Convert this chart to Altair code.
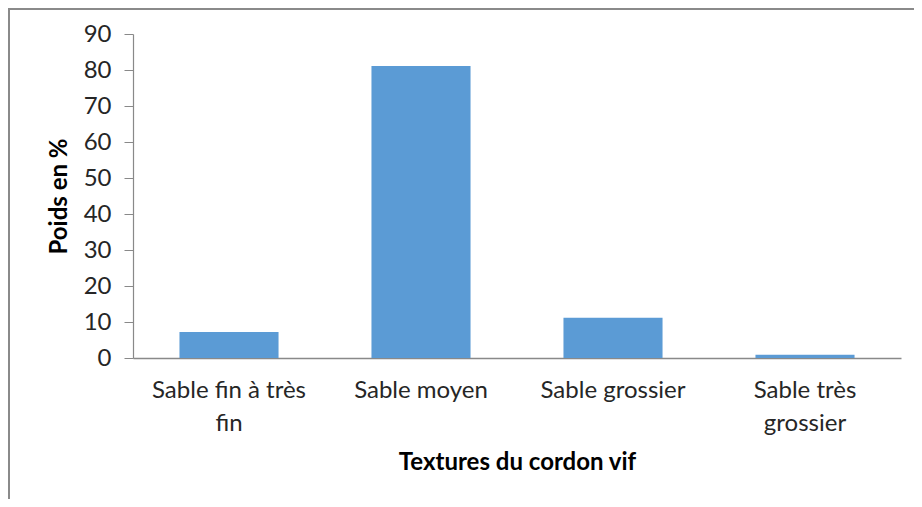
import altair as alt
import pandas as pd

categories = ["Sable fin à très fin", "Sable moyen", "Sable grossier", "Sable très grossier"]
values = [7.2, 81.1, 11.2, 0.9]
y_ticks = [0, 10, 20, 30, 40, 50, 60, 70, 80, 90]

df = pd.DataFrame({"texture": categories, "poids": values})

FONT = "Lato"
GRAY = "#898989"
TXT = "#262626"

label_expr = (
    "datum.label == 'Sable fin à très fin' ? ['Sable fin à très', 'fin'] : "
    "datum.label == 'Sable très grossier' ? ['Sable très', 'grossier'] : datum.label"
)

bars = alt.Chart(df).mark_bar(color="#5B9BD5").encode(
    x=alt.X(
        "texture:N",
        sort=categories,
        scale=alt.Scale(paddingInner=0.484, paddingOuter=0.242),
        axis=alt.Axis(
            title="Textures du cordon vif",
            labelAngle=0,
            labelExpr=label_expr,
            labelFont=FONT,
            labelFontSize=24,
            labelColor=TXT,
            labelPadding=20,
            labelLineHeight=33,
            ticks=False,
            domainColor=GRAY,
            domainWidth=1.5,
            titleFont=FONT,
            titleFontSize=24,
            titleFontWeight="bold",
            titleColor="#000000",
            titlePadding=15,
            grid=False,
        ),
    ),
    y=alt.Y(
        "poids:Q",
        scale=alt.Scale(domain=[0, 90], nice=False),
        axis=alt.Axis(
            title="Poids en %",
            values=y_ticks,
            labelFont=FONT,
            labelFontSize=24,
            labelColor=TXT,
            labelPadding=13,
            tickSize=9,
            tickColor=GRAY,
            domainColor=GRAY,
            domainWidth=1.2,
            titleFont=FONT,
            titleFontSize=24,
            titleFontWeight="bold",
            titleColor="#000000",
            titlePadding=12,
            grid=False,
        ),
    ),
)

frame_top = alt.Chart(df).mark_rule(color="#8a8a8a", strokeWidth=2).encode(
    x=alt.value(-125), x2=alt.value(781), y=alt.value(-25)
)
frame_left = alt.Chart(df).mark_rule(color="#8a8a8a", strokeWidth=2).encode(
    x=alt.value(-124), y=alt.value(-26), y2=alt.value(470)
)

chart = alt.layer(bars, frame_top, frame_left).properties(
    width=768,
    height=324,
    autosize=alt.AutoSizeParams(type="none"),
    padding={"left": 125, "top": 26, "right": 13, "bottom": 141},
).configure_view(stroke=None)

chart.save("out.html", embed_options={"renderer": "svg", "actions": False})
